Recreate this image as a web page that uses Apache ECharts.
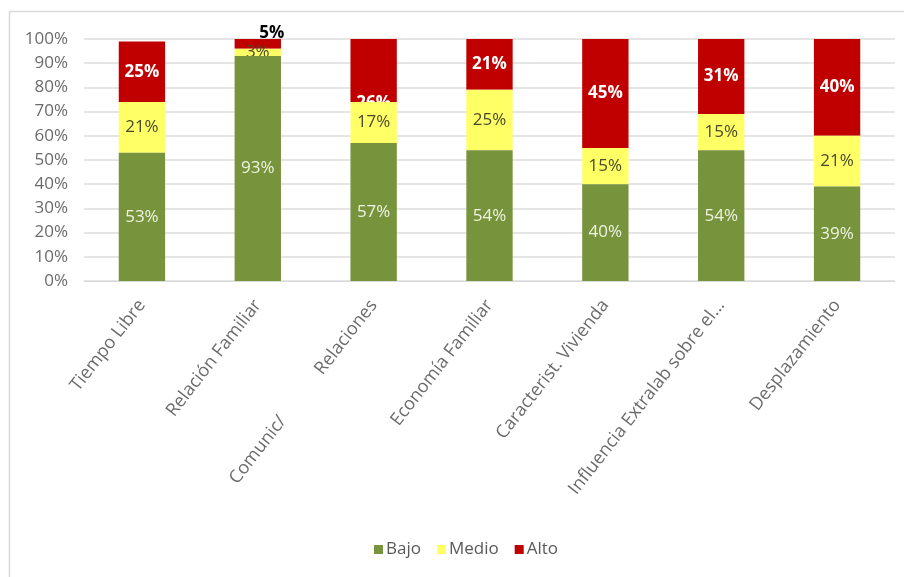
<!DOCTYPE html>
<html>
<head>
<meta charset="utf-8">
<script src="https://cdn.jsdelivr.net/npm/echarts@6/dist/echarts.min.js"></script>
<style>
  html, body { margin: 0; padding: 0; background: #ffffff; }
  #chart { width: 904px; height: 577px; }
</style>
</head>
<body>
<div id="chart"></div>
<script>
// Dimensions of the extra-work factors
const categories = [
  'Tiempo Libre',
  'Relación Familiar',
  'Comunic/ Relaciones',
  'Economía Familiar',
  'Caracterist. Vivienda',
  'Influencia Extralab sobre el...',
  'Desplazamiento'
];

// Share of answers per level (%)
const bajo  = [53, 93, 57, 54, 40, 54, 39];
const medio = [21, 3, 17, 25, 15, 15, 21];
const alto  = [25, 5, 26, 21, 45, 31, 40];

const yTicks = [0, 10, 20, 30, 40, 50, 60, 70, 80, 90, 100];

const FONT = '"Open Sans", "Noto Sans", sans-serif';

const chart = echarts.init(document.getElementById('chart'), null, { renderer: 'canvas' });

// Alto labels: one sits above its short bar, another at the foot of its segment
const altoData = alto.map((v, i) => {
  if (i === 1) {
    return { value: v, label: { position: 'top', color: '#000000', fontWeight: 'bold', fontSize: 17, offset: [14, 8] } };
  }
  if (i === 2) {
    return { value: v, label: { position: 'insideBottom', offset: [0, 15] } };
  }
  return v;
});

const pct = p => p.value + '%';

// The two-word category keeps a wide gap between its words
const catLabel = v => {
  if (v === 'Comunic/ Relaciones') {
    const parts = v.split(' ');
    return '{b|' + parts[0] + '}{a|' + parts[1] + '}';
  }
  return v;
};

const option = {
  backgroundColor: '#ffffff',
  animation: false,
  textStyle: { fontFamily: FONT },
  graphic: [{
    type: 'rect',
    shape: { x: 9.5, y: 11.5, width: 1000, height: 1000 },
    style: { fill: 'none', stroke: '#d9d9d9', lineWidth: 1.5 },
    silent: true
  }],
  legend: {
    data: ['Bajo', 'Medio', 'Alto'],
    left: 369,
    top: 536,
    icon: 'rect',
    itemWidth: 9,
    itemHeight: 9,
    itemGap: 16,
    textStyle: { fontFamily: FONT, fontSize: 17, color: '#595959', padding: [0, 0, 0, -2] }
  },
  grid: { left: 84, right: 9, top: 39, bottom: 296, containLabel: false },
  xAxis: {
    type: 'category',
    data: categories,
    axisLine: { show: true, lineStyle: { color: '#d9d9d9', width: 1 } },
    axisTick: { show: false },
    axisLabel: {
      interval: 0,
      rotate: 52,
      margin: 21,
      fontFamily: FONT,
      fontSize: 18,
      color: '#6b6b6b',
      formatter: catLabel,
      rich: {
        a: { fontFamily: FONT, fontSize: 18, color: '#6b6b6b' },
        b: { fontFamily: FONT, fontSize: 18, color: '#6b6b6b', padding: [0, 58, 0, 0] }
      }
    }
  },
  yAxis: {
    type: 'value',
    min: yTicks[0],
    max: yTicks[yTicks.length - 1],
    interval: 10,
    axisLine: { show: false },
    axisTick: { show: false },
    splitLine: { lineStyle: { color: '#dcdcdc', width: 1.5 } },
    axisLabel: {
      margin: 16,
      fontFamily: FONT,
      fontSize: 17,
      color: '#6b6b6b',
      formatter: v => v + '%'
    }
  },
  // Lower segments sit on higher layers so their bars overlap labels of the segment above
  series: [
    {
      name: 'Bajo',
      type: 'bar',
      stack: 'total',
      barWidth: '40%',
      zlevel: 3,
      itemStyle: { color: '#77933C' },
      label: { show: true, position: 'inside', formatter: pct, color: '#eef3e2', fontSize: 17, fontFamily: FONT },
      data: bajo
    },
    {
      name: 'Medio',
      type: 'bar',
      stack: 'total',
      zlevel: 2,
      itemStyle: { color: '#FFFF66' },
      label: { show: true, position: 'inside', formatter: pct, color: '#4a4a2a', fontSize: 17, fontFamily: FONT },
      data: medio
    },
    {
      name: 'Alto',
      type: 'bar',
      stack: 'total',
      zlevel: 1,
      itemStyle: { color: '#C00000' },
      label: { show: true, position: 'inside', formatter: pct, color: '#ffffff', fontWeight: 'bold', fontSize: 17, fontFamily: FONT },
      data: altoData
    }
  ]
};

chart.setOption(option);
</script>
</body>
</html>
